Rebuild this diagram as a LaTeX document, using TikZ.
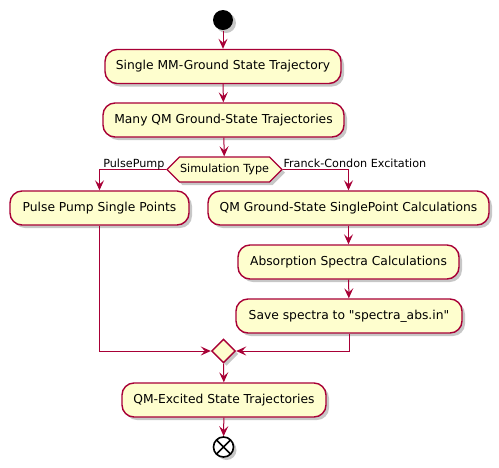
\documentclass[tikz,border=0pt]{standalone}
\usepackage{fontspec}
\setmainfont{DejaVu Sans}
\newfontfamily\umlschrift{DejaVu Sans}
\usepackage{tikz}
\usetikzlibrary{arrows.meta,shapes.geometric,shapes.symbols,shadows}
\definecolor{umlrot}{HTML}{A80036}
\definecolor{umlgelb}{HTML}{FEFECE}

\begin{document}
\begin{tikzpicture}[x=1pt, y=-1pt, line width=1pt,
    schatten/.style={drop shadow={shadow xshift=3pt, shadow yshift=-3pt, opacity=.22, fill=black}},
    aktion/.style={draw=umlrot, fill=umlgelb, line width=1.4pt, rounded corners=12pt,
        minimum height=34pt, inner sep=0pt, font=\umlschrift\fontsize{12.3pt}{14pt}\selectfont, schatten},
    weiche/.style={draw=umlrot, fill=umlgelb, line width=1.4pt, shape=signal,
        signal to=west and east, signal pointer angle=90, minimum width=115pt,
        minimum height=25pt, inner sep=0pt, font=\umlschrift\fontsize{11.2pt}{13pt}\selectfont, schatten},
    raute/.style={draw=umlrot, fill=umlgelb, line width=1.4pt, diamond, aspect=1,
        minimum size=24pt, inner sep=0pt, schatten},
    pfeil/.style={draw=umlrot, -{Stealth[length=10pt, width=9pt, inset=4pt]}},
    marke/.style={font=\umlschrift\fontsize{11.2pt}{13pt}\selectfont, inner sep=0pt}]
    \useasboundingbox (0,0) rectangle (499,467);

    % Knoten.
    \node[circle, fill=black, minimum size=20pt, inner sep=0pt, schatten] (start) at (223,20) {};
    \node[aktion, minimum width=236pt] (mm) at (223,66.5) {Single MM-Ground State Trajectory};
    \node[aktion, minimum width=241pt] (qm) at (223.5,120) {Many QM Ground-State Trajectories};
    \node[weiche] (typ) at (224.5,169.5) {Simulation Type};
    \node[aktion, minimum width=179pt] (pulse) at (99.5,208) {Pulse Pump Single Points};
    \node[aktion, minimum width=281pt] (sp) at (348.5,208) {QM Ground-State SinglePoint Calculations};
    \node[aktion, minimum width=221pt] (abs) at (348.5,262) {Absorption Spectra Calculations};
    \node[aktion, minimum width=226pt] (save) at (349,316) {Save spectra to "spectra\_abs.in"};
    \node[raute] (merge) at (223.5,351) {};
    \node[aktion, minimum width=204pt] (exc) at (224,400) {QM-Excited State Trajectories};
    \node[circle, draw=black, fill=white, line width=1.6pt, minimum size=20pt, inner sep=0pt, schatten,
        path picture={\draw[line width=1.6pt]
            (path picture bounding box.north west) -- (path picture bounding box.south east)
            (path picture bounding box.north east) -- (path picture bounding box.south west);}]
        (ende) at (223.5,447) {};

    % Pfeile.
    \foreach \a/\b in {start/mm, mm/qm, qm/typ, sp/abs, abs/save, merge/exc, exc/ende}
    {
        \draw[pfeil] (\a) -- (\b);
    }
    \draw[pfeil] (typ.west) -| (pulse.north);
    \draw[pfeil] (typ.east) -| (sp.north);
    \draw[pfeil] (pulse.south) |- (merge.west);
    \draw[pfeil] (save.south) |- (merge.east);

    % Beschriftung.
    \node[marke, anchor=base east] (lpulse) at (165,167) {PulsePump};
    \node[marke, anchor=base west] (lfranck) at (283,167) {Franck-Condon Excitation};
\end{tikzpicture}
\end{document}
